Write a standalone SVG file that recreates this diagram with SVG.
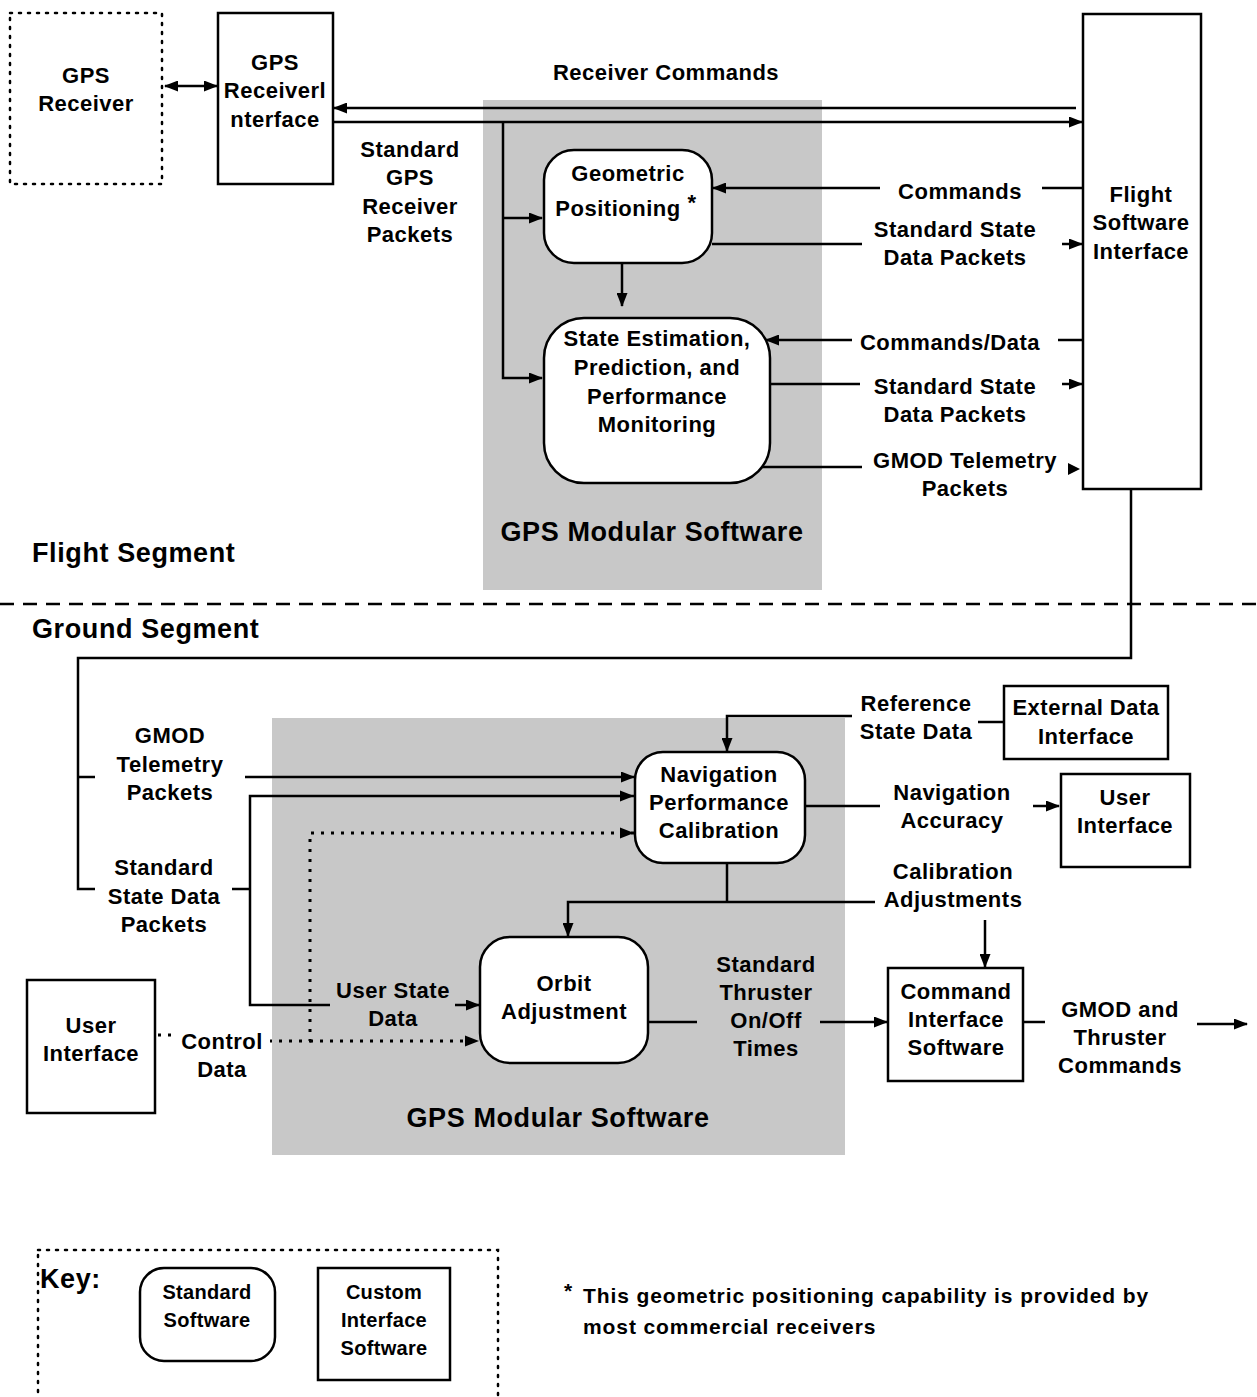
<svg xmlns="http://www.w3.org/2000/svg" width="1257" height="1397" viewBox="0 0 1257 1397">
<style>
text{font-family:"Liberation Sans",Arial,sans-serif;font-weight:bold;fill:#000;text-anchor:middle;}
.t{font-size:22px;letter-spacing:0.5px;}
.big{font-size:27px;letter-spacing:0.6px;}
.sm{font-size:20px;letter-spacing:0.3px;}
.fn{font-size:21px;letter-spacing:0.9px;}
.box{fill:#fff;stroke:#000;stroke-width:2.5;}
.dotbox{fill:none;stroke:#000;stroke-width:2.5;stroke-dasharray:2 7;stroke-linecap:round;}
.ln{fill:none;stroke:#000;stroke-width:2.5;}
.dl{fill:none;stroke:#000;stroke-width:3;stroke-dasharray:3 7;}
.shade{fill:#c8c8c8;}
</style>
<defs>
<marker id="ah" viewBox="0 0 14 11" refX="13" refY="5.5" markerWidth="14" markerHeight="11" markerUnits="userSpaceOnUse" orient="auto-start-reverse">
<path d="M0,0 L14,5.5 L0,11 Z" fill="#000"/>
</marker>
</defs>
<rect width="1257" height="1397" fill="#fff"/>

<!-- shaded regions -->
<rect class="shade" x="483" y="100" width="339" height="490"/>
<rect class="shade" x="272" y="718" width="573" height="437"/>
<text class="big" x="652" y="541">GPS Modular Software</text>
<text class="big" x="558" y="1127">GPS Modular Software</text>

<!-- segment labels -->
<text class="big" x="32" y="562" style="text-anchor:start">Flight Segment</text>
<line x1="0" y1="604" x2="1257" y2="604" stroke="#000" stroke-width="2.5" stroke-dasharray="14 9"/>
<text class="big" x="32" y="638" style="text-anchor:start">Ground Segment</text>

<g id="connectors">
<line class="ln" x1="165" y1="86" x2="217" y2="86" marker-start="url(#ah)" marker-end="url(#ah)"/>
<line class="ln" x1="1076" y1="108" x2="334" y2="108" marker-end="url(#ah)"/>
<line class="ln" x1="334" y1="122" x2="1082" y2="122" marker-end="url(#ah)"/>
<polyline class="ln" points="503,122 503,378 542,378" marker-end="url(#ah)"/>
<line class="ln" x1="503" y1="218" x2="542" y2="218" marker-end="url(#ah)"/>
<line class="ln" x1="1042" y1="188" x2="1083" y2="188"/>
<line class="ln" x1="880" y1="188" x2="713" y2="188" marker-end="url(#ah)"/>
<line class="ln" x1="712" y1="244" x2="862" y2="244"/>
<line class="ln" x1="1062" y1="244" x2="1082" y2="244" marker-end="url(#ah)"/>
<line class="ln" x1="622" y1="264" x2="622" y2="306" marker-end="url(#ah)"/>
<line class="ln" x1="1058" y1="340" x2="1083" y2="340"/>
<line class="ln" x1="852" y1="340" x2="766" y2="340" marker-end="url(#ah)"/>
<line class="ln" x1="770" y1="384" x2="860" y2="384"/>
<line class="ln" x1="1062" y1="384" x2="1082" y2="384" marker-end="url(#ah)"/>
<line class="ln" x1="758" y1="467" x2="862" y2="467"/>
<path d="M1068,463 L1080,469 L1068,475 Z" fill="#000"/>
<polyline class="ln" points="1131,489 1131,658 78,658 78,889 95,889"/>
<line class="ln" x1="78" y1="777" x2="95" y2="777"/>
<line class="ln" x1="245" y1="777" x2="634" y2="777" marker-end="url(#ah)"/>
<line class="ln" x1="232" y1="889" x2="250" y2="889"/>
<polyline class="ln" points="634,796 250,796 250,1005 330,1005"/>
<path d="M620,790.5 L634,796 L620,801.5 Z" fill="#000"/>
<line class="ln" x1="455" y1="1005" x2="479" y2="1005" marker-end="url(#ah)"/>
<line class="dl" x1="158" y1="1035" x2="172" y2="1035"/>
<polyline class="dl" points="634,833 310,833 310,1041 270,1041"/>
<line class="dl" x1="310" y1="1041" x2="479" y2="1041"/>
<path d="M620,827.5 L634,833 L620,838.5 Z" fill="#000"/>
<path d="M465,1035.5 L479,1041 L465,1046.5 Z" fill="#000"/>
<line class="ln" x1="978" y1="722" x2="1004" y2="722"/>
<polyline class="ln" points="852,716 727,716 727,751" marker-end="url(#ah)"/>
<line class="ln" x1="805" y1="806" x2="880" y2="806"/>
<line class="ln" x1="1033" y1="806" x2="1059" y2="806" marker-end="url(#ah)"/>
<polyline class="ln" points="727,863 727,902"/>
<polyline class="ln" points="875,902 568,902 568,936" marker-end="url(#ah)"/>
<line class="ln" x1="985" y1="920" x2="985" y2="967" marker-end="url(#ah)"/>
<line class="ln" x1="649" y1="1022" x2="697" y2="1022"/>
<line class="ln" x1="820" y1="1022" x2="887" y2="1022" marker-end="url(#ah)"/>
<line class="ln" x1="1023" y1="1022" x2="1045" y2="1022"/>
<line class="ln" x1="1197" y1="1024" x2="1247" y2="1024" marker-end="url(#ah)"/>
</g>

<g id="labels">
<text class="t" x="666" y="80">Receiver Commands</text>
<text class="t" x="410" y="157">Standard</text>
<text class="t" x="410" y="185">GPS</text>
<text class="t" x="410" y="214">Receiver</text>
<text class="t" x="410" y="242">Packets</text>
<text class="t" x="960" y="199">Commands</text>
<text class="t" x="955" y="237">Standard State</text>
<text class="t" x="955" y="265">Data Packets</text>
<text class="t" x="950" y="350">Commands/Data</text>
<text class="t" x="955" y="394">Standard State</text>
<text class="t" x="955" y="422">Data Packets</text>
<text class="t" x="965" y="468">GMOD Telemetry</text>
<text class="t" x="965" y="496">Packets</text>
<text class="t" x="170" y="743">GMOD</text>
<text class="t" x="170" y="772">Telemetry</text>
<text class="t" x="170" y="800">Packets</text>
<text class="t" x="164" y="875">Standard</text>
<text class="t" x="164" y="904">State Data</text>
<text class="t" x="164" y="932">Packets</text>
<text class="t" x="393" y="998">User State</text>
<text class="t" x="393" y="1026">Data</text>
<text class="t" x="222" y="1049">Control</text>
<text class="t" x="222" y="1077">Data</text>
<text class="t" x="916" y="711">Reference</text>
<text class="t" x="916" y="739">State Data</text>
<text class="t" x="952" y="800">Navigation</text>
<text class="t" x="952" y="828">Accuracy</text>
<text class="t" x="953" y="879">Calibration</text>
<text class="t" x="953" y="907">Adjustments</text>
<text class="t" x="766" y="972">Standard</text>
<text class="t" x="766" y="1000">Thruster</text>
<text class="t" x="766" y="1028">On/Off</text>
<text class="t" x="766" y="1056">Times</text>
<text class="t" x="1120" y="1017">GMOD and</text>
<text class="t" x="1120" y="1045">Thruster</text>
<text class="t" x="1120" y="1073">Commands</text>
</g>

<g id="gps-receiver">
<rect class="dotbox" x="10" y="13" width="152" height="171"/>
<text class="t" x="86" y="83">GPS</text>
<text class="t" x="86" y="111">Receiver</text>
</g>
<g id="gps-receiver-interface">
<rect class="box" x="218" y="13" width="115" height="171"/>
<text class="t" x="275" y="70">GPS</text>
<text class="t" x="275" y="98">Receiverl</text>
<text class="t" x="275" y="127">nterface</text>
</g>
<g id="geometric-positioning">
<rect class="box" x="544" y="150" width="168" height="113" rx="30"/>
<text class="t" x="628" y="181">Geometric</text>
<text class="t" x="618" y="216">Positioning</text>
<text class="t" x="692" y="210">*</text>
</g>
<g id="state-estimation">
<rect class="box" x="544" y="318" width="226" height="165" rx="40"/>
<text class="t" x="657" y="346">State Estimation,</text>
<text class="t" x="657" y="375">Prediction, and</text>
<text class="t" x="657" y="404">Performance</text>
<text class="t" x="657" y="432">Monitoring</text>
</g>
<g id="flight-software-interface">
<rect class="box" x="1083" y="14" width="118" height="475"/>
<text class="t" x="1141" y="202">Flight</text>
<text class="t" x="1141" y="230">Software</text>
<text class="t" x="1141" y="259">Interface</text>
</g>
<g id="nav-performance-calibration">
<rect class="box" x="635" y="752" width="170" height="111" rx="28"/>
<text class="t" x="719" y="782">Navigation</text>
<text class="t" x="719" y="810">Performance</text>
<text class="t" x="719" y="838">Calibration</text>
</g>
<g id="external-data-interface">
<rect class="box" x="1004" y="686" width="164" height="73"/>
<text class="t" x="1086" y="715">External Data</text>
<text class="t" x="1086" y="744">Interface</text>
</g>
<g id="user-interface-right">
<rect class="box" x="1061" y="774" width="129" height="93"/>
<text class="t" x="1125" y="805">User</text>
<text class="t" x="1125" y="833">Interface</text>
</g>
<g id="orbit-adjustment">
<rect class="box" x="480" y="937" width="168" height="126" rx="30"/>
<text class="t" x="564" y="991">Orbit</text>
<text class="t" x="564" y="1019">Adjustment</text>
</g>
<g id="command-interface-software">
<rect class="box" x="888" y="968" width="135" height="113"/>
<text class="t" x="956" y="999">Command</text>
<text class="t" x="956" y="1027">Interface</text>
<text class="t" x="956" y="1055">Software</text>
</g>
<g id="user-interface-left">
<rect class="box" x="27" y="980" width="128" height="133"/>
<text class="t" x="91" y="1033">User</text>
<text class="t" x="91" y="1061">Interface</text>
</g>

<g id="key">
<rect class="dotbox" x="38" y="1250" width="460" height="160"/>
<text class="big" x="40" y="1288" style="text-anchor:start">Key:</text>
<rect class="box" x="140" y="1268" width="135" height="93" rx="24"/>
<text class="sm" x="207" y="1299">Standard</text>
<text class="sm" x="207" y="1327">Software</text>
<rect class="box" x="318" y="1268" width="132" height="112"/>
<text class="sm" x="384" y="1299">Custom</text>
<text class="sm" x="384" y="1327">Interface</text>
<text class="sm" x="384" y="1355">Software</text>
</g>
<g id="footnote">
<text class="fn" x="564" y="1298" style="text-anchor:start">*</text>
<text class="fn" x="583" y="1303" style="text-anchor:start">This geometric positioning capability is provided by</text>
<text class="fn" x="583" y="1334" style="text-anchor:start">most commercial receivers</text>
</g>
</svg>
